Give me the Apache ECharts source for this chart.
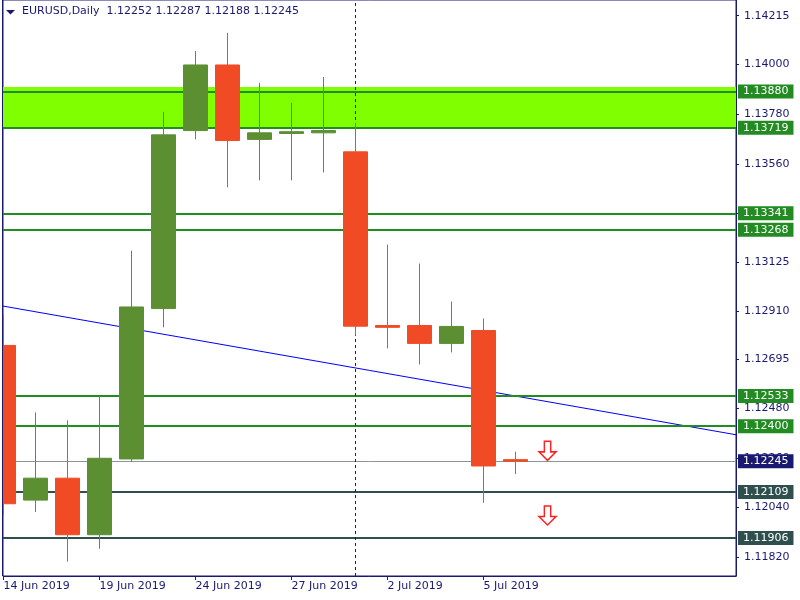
<!DOCTYPE html>
<html><head><meta charset="utf-8">
<script src="https://cdn.jsdelivr.net/npm/echarts@6/dist/echarts.min.js"></script>
<style>html,body{margin:0;padding:0;background:#fff}#c{width:800px;height:600px}</style>
</head><body><div id="c"></div>
<script>
const dates = ['14 Jun 2019','17 Jun 2019','18 Jun 2019','19 Jun 2019','20 Jun 2019','21 Jun 2019','24 Jun 2019','25 Jun 2019','26 Jun 2019','27 Jun 2019','28 Jun 2019','1 Jul 2019','2 Jul 2019','3 Jul 2019','4 Jul 2019','5 Jul 2019','8 Jul 2019'];
const openP  = [1.12757,1.12073,1.12170,1.11920,1.12255,1.12920,1.13707,1.13997,1.13668,1.13694,1.13697,1.13613,1.12845,1.12845,1.12766,1.12823,1.12252];
const closeP = [1.12057,1.12170,1.11920,1.12258,1.12927,1.13688,1.13997,1.13663,1.13697,1.13702,1.13707,1.12842,1.12837,1.12766,1.12841,1.12224,1.12245];
const lowP   = [1.12007,1.12021,1.11801,1.11858,1.12243,1.12837,1.13668,1.13456,1.13487,1.13487,1.13522,1.12801,1.12744,1.12673,1.12726,1.12061,1.12188];
const highP  = [1.12894,1.12461,1.12426,1.12533,1.13176,1.13790,1.14059,1.14139,1.13918,1.13830,1.13944,1.13741,1.13203,1.13119,1.12951,1.12876,1.12287];
const yTicks = [1.14215,1.14000,1.13780,1.13560,1.13340,1.13125,1.12910,1.12695,1.12480,1.12260,1.12040,1.11820];
const xTickIdx = [0,3,6,9,12,15];
const resistLevels = [1.13880,1.13719,1.13341,1.13268,1.12533,1.12400];
const supportLevels = [1.12109,1.11906];
const bidPrice = 1.12245;
const zone = [1.13900,1.13719];
const trendX = [-0.016, 22.89];
const trendY = [1.12931, 1.12362];
const separatorIdx = 11;
const arrowX = [17,17];
const arrowY = [1.12291,1.12005];
const header = 'EURUSD,Daily  1.12252 1.12287 1.12188 1.12245';

const FONT = 'DejaVu Sans';
const NAVY = '#191970';
const GREEN = '#5B8F32';
const RED = '#F14B25';

const lineData = [];
resistLevels.forEach(v => lineData.push({yAxis: v, lineStyle: {color: '#228B22', width: 2, type: 'solid'}, label: {backgroundColor: '#228B22'}}));
supportLevels.forEach(v => lineData.push({yAxis: v, lineStyle: {color: '#2F4F4F', width: 2, type: 'solid'}, label: {backgroundColor: '#2F4F4F'}}));
lineData.push({yAxis: bidPrice, lineStyle: {color: '#8A9499', width: 1, type: 'solid'}, label: {backgroundColor: NAVY}});
lineData.push({xAxis: separatorIdx, lineStyle: {color: NAVY, width: 1, type: [3, 3]}, label: {show: false}});

const chart = echarts.init(document.getElementById('c'));
chart.setOption({
  animation: false,
  backgroundColor: '#ffffff',
  title: {text: header, left: 22, top: 6, padding: 0,
    textStyle: {fontSize: 11, fontWeight: 'normal', color: NAVY, fontFamily: FONT}},
  graphic: [
    {type: 'polygon', shape: {points: [[6, 10], [15, 10], [10.5, 14.5]]}, style: {fill: NAVY}},
    {type: 'rect', z: 100, silent: true, shape: {x: 0, y: 0, width: 2.5, height: 600}, style: {fill: '#ffffff'}},
    {type: 'line', z: 101, silent: true, shape: {x1: 2.5, y1: 0, x2: 2.5, y2: 576}, style: {stroke: NAVY, lineWidth: 1}}
  ],
  grid: {left: 3, right: 64, top: -1, bottom: 24, show: true, borderColor: NAVY, borderWidth: 1, backgroundColor: 'transparent'},
  xAxis: {
    type: 'value', min: trendX[0], max: trendX[1],
    splitLine: {show: false},
    axisLine: {show: true, onZero: false, lineStyle: {color: NAVY}},
    axisTick: {show: true, inside: false, length: 4, lineStyle: {color: NAVY}, customValues: xTickIdx},
    axisLabel: {customValues: xTickIdx, formatter: v => dates[Math.round(v)] || '', align: 'left', margin: 5,
      color: NAVY, fontSize: 11, fontFamily: FONT}
  },
  yAxis: {
    type: 'value', position: 'right', min: 1.117375, max: 1.142843, scale: true,
    splitLine: {show: false},
    axisLine: {show: true, onZero: false, lineStyle: {color: NAVY}},
    axisTick: {show: true, inside: false, length: 3, lineStyle: {color: NAVY}, customValues: yTicks},
    axisLabel: {customValues: yTicks, formatter: v => v.toFixed(5), margin: 8, align: 'left',
      color: NAVY, fontSize: 11, fontFamily: FONT}
  },
  series: [
    {
      type: 'line', z: 1, silent: true, symbol: 'none',
      data: trendX.map((x, i) => [x, trendY[i]]),
      lineStyle: {color: '#0000FF', width: 1},
      markArea: {z: 1, silent: true, itemStyle: {color: '#80FF00', opacity: 1},
        data: [[{yAxis: zone[0]}, {yAxis: zone[1]}]]},
      markLine: {z: 1.5, silent: true, symbol: 'none', animation: false, precision: 5,
        label: {show: true, position: 'end', distance: 2, formatter: p => Number(p.value).toFixed(5),
          color: '#ffffff', fontSize: 11, fontFamily: FONT, padding: [1, 5, 1, 5], lineHeight: 12},
        data: lineData}
    },
    {
      type: 'candlestick', z: 3, layout: 'horizontal', barWidth: 24, clip: true,
      data: dates.map((d, i) => [i, openP[i], closeP[i], lowP[i], highP[i]]),
      itemStyle: {color: GREEN, color0: RED, borderColor: GREEN, borderColor0: RED, borderWidth: 1}
    },
    {
      type: 'scatter', z: 4, silent: true,
      symbol: 'path://M5,0L11,0L11,10L16,10L8,18L0,10L5,10Z', symbolSize: [17, 19],
      data: arrowX.map((x, i) => [x, arrowY[i]]),
      itemStyle: {color: '#ffffff', borderColor: '#FF2020', borderWidth: 1.5, opacity: 1}
    }
  ]
});
</script></body></html>
